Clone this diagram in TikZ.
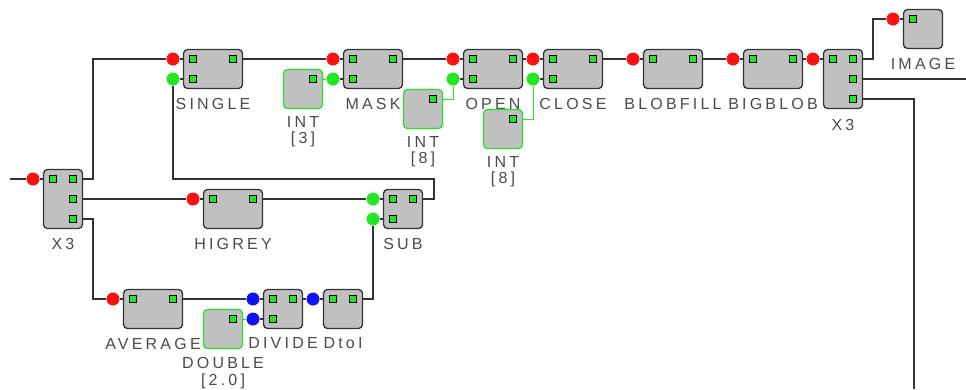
\documentclass[tikz,border=0pt]{standalone}
\usepackage{fontspec}
\usepackage{tikz}
\usetikzlibrary{positioning,backgrounds}
\newfontfamily\lblfont[LetterSpace=20]{Liberation Sans}
\definecolor{cinza}{HTML}{C0C0C0}
\definecolor{borda}{HTML}{333333}
\definecolor{verde}{HTML}{22E622}
\definecolor{vermelho}{HTML}{FF1010}
\definecolor{azul}{HTML}{1010FF}
\definecolor{rotulo}{HTML}{4A4A4A}

\begin{document}
\begin{tikzpicture}[x=1pt, y=-1pt,
  blk/.style={draw=borda, fill=cinza, rounded corners=4pt, line width=1.3pt, inner sep=0pt, minimum width=59pt, minimum height=39pt},
  sq/.style={blk, minimum width=39pt},
  tall/.style={blk, minimum width=39pt, minimum height=59pt},
  cst/.style={sq, draw=verde},
  prt/.style={draw=black, fill=verde, line width=0.8pt, minimum size=7pt, inner sep=0pt},
  dr/.style={circle, fill=vermelho, minimum size=13pt, inner sep=0pt},
  dg/.style={dr, fill=verde},
  db/.style={dr, fill=azul},
  fio/.style={draw=borda, line width=1.4pt},
  fiov/.style={draw=verde, line width=1pt},
  lbl/.style={font=\lblfont\fontsize{16}{16.5}\selectfont, text=rotulo, inner sep=0pt, align=center}]
  \useasboundingbox (0,0) rectangle (966,389);
  \coordinate (ent) at (10,179);
  \coordinate (sai1) at (966,79);
  \coordinate (sai2) at (914,389);
  % top row
  \node[tall] (x3a) at (63,199) {};
  \node[prt] (x3a-i1) at (53,179) {}; \node[prt] (x3a-o1) at (73,179) {}; \node[prt] (x3a-o2) at (73,199) {}; \node[prt] (x3a-o3) at (73,219) {};
  \node[dr] (x3a-r1) at (33,179) {};
  \node[lbl, below=8.5pt of x3a] (x3a-t) {X3};
  \node[blk] (single) at (213,69) {};
  \node[prt] (single-i1) at (193,59) {}; \node[prt] (single-o1) at (233,59) {}; \node[prt] (single-i2) at (193,79) {};
  \node[dr] (single-r1) at (173,59) {}; \node[dg] (single-g2) at (173,79) {};
  \node[lbl, below=8.5pt of single] (single-t) {SINGLE};
  \node[cst] (int3) at (303,89) {};
  \node[prt] (int3-o1) at (313,79) {};
  \node[lbl, below=7pt of int3] (int3-t) {INT\\{[3]}};
  \node[blk] (mask) at (373,69) {};
  \node[prt] (mask-i1) at (353,59) {}; \node[prt] (mask-o1) at (393,59) {}; \node[prt] (mask-i2) at (353,79) {};
  \node[dr] (mask-r1) at (333,59) {}; \node[dg] (mask-g2) at (333,79) {};
  \node[lbl, below=8.5pt of mask] (mask-t) {MASK};
  \node[cst] (int8a) at (423,109) {};
  \node[prt] (int8a-o1) at (433,99) {};
  \node[lbl, below=7pt of int8a] (int8a-t) {INT\\{[8]}};
  \node[blk] (open) at (493,69) {};
  \node[prt] (open-i1) at (473,59) {}; \node[prt] (open-o1) at (513,59) {}; \node[prt] (open-i2) at (473,79) {};
  \node[dr] (open-r1) at (453,59) {}; \node[dg] (open-g2) at (453,79) {};
  \node[lbl, below=8.5pt of open] (open-t) {OPEN};
  \node[blk] (close) at (573,69) {};
  \node[prt] (close-i1) at (553,59) {}; \node[prt] (close-o1) at (593,59) {}; \node[prt] (close-i2) at (553,79) {};
  \node[dr] (close-r1) at (533,59) {}; \node[dg] (close-g2) at (533,79) {};
  \node[lbl, below=8.5pt of close] (close-t) {CLOSE};
  \node[cst] (int8b) at (503,129) {};
  \node[prt] (int8b-o1) at (513,119) {};
  \node[lbl, below=7pt of int8b] (int8b-t) {INT\\{[8]}};
  \node[blk] (blobfill) at (673,69) {};
  \node[prt] (blobfill-i1) at (653,59) {}; \node[prt] (blobfill-o1) at (693,59) {};
  \node[dr] (blobfill-r1) at (633,59) {};
  \node[lbl, below=8.5pt of blobfill] (blobfill-t) {BLOBFILL};
  \node[blk] (bigblob) at (773,69) {};
  \node[prt] (bigblob-i1) at (753,59) {}; \node[prt] (bigblob-o1) at (793,59) {};
  \node[dr] (bigblob-r1) at (733,59) {};
  \node[lbl, below=8.5pt of bigblob] (bigblob-t) {BIGBLOB};
  \node[tall] (x3b) at (843,79) {};
  \node[prt] (x3b-i1) at (833,59) {}; \node[prt] (x3b-o1) at (853,59) {}; \node[prt] (x3b-o2) at (853,79) {}; \node[prt] (x3b-o3) at (853,99) {};
  \node[dr] (x3b-r1) at (813,59) {};
  \node[lbl, below=9.5pt of x3b] (x3b-t) {X3};
  \node[sq] (image) at (923,29) {};
  \node[prt] (image-i1) at (913,19) {};
  \node[dr] (image-r1) at (893,19) {};
  \node[lbl, below=8.5pt of image] (image-t) {IMAGE};
  % middle and bottom rows
  \node[blk] (higrey) at (233,209) {};
  \node[prt] (higrey-i1) at (213,199) {}; \node[prt] (higrey-o1) at (253,199) {};
  \node[dr] (higrey-r1) at (193,199) {};
  \node[lbl, below=8.5pt of higrey] (higrey-t) {HIGREY};
  \node[sq] (sub) at (403,209) {};
  \node[prt] (sub-i1) at (393,199) {}; \node[prt] (sub-o1) at (413,199) {}; \node[prt] (sub-i2) at (393,219) {};
  \node[dg] (sub-g1) at (373,199) {}; \node[dg] (sub-g2) at (373,219) {};
  \node[lbl, below=8.5pt of sub] (sub-t) {SUB};
  \node[blk] (average) at (153,309) {};
  \node[prt] (average-i1) at (133,299) {}; \node[prt] (average-o1) at (173,299) {};
  \node[dr] (average-r1) at (113,299) {};
  \node[lbl, below=8.5pt of average] (average-t) {AVERAGE};
  \node[sq] (divide) at (283,309) {};
  \node[prt] (divide-i1) at (273,299) {}; \node[prt] (divide-o1) at (293,299) {}; \node[prt] (divide-i2) at (273,319) {};
  \node[db] (divide-b1) at (253,299) {}; \node[db] (divide-b2) at (253,319) {};
  \node[lbl, below=8.5pt of divide] (divide-t) {DIVIDE};
  \node[cst] (double) at (223,329) {};
  \node[prt] (double-o1) at (233,319) {};
  \node[lbl, below=8pt of double] (double-t) {DOUBLE\\{[2.0]}};
  \node[sq] (dtoi) at (343,309) {};
  \node[prt] (dtoi-i1) at (333,299) {}; \node[prt] (dtoi-o1) at (353,299) {};
  \node[db] (dtoi-b1) at (313,299) {};
  \node[lbl, below=8.5pt of dtoi] (dtoi-t) {DtoI};
  % wires
  \begin{scope}[on background layer]
    \foreach \d/\p in {x3a-r1/x3a-i1, single-r1/single-i1, single-g2/single-i2, mask-r1/mask-i1, mask-g2/mask-i2,
        open-r1/open-i1, open-g2/open-i2, close-r1/close-i1, close-g2/close-i2, blobfill-r1/blobfill-i1,
        bigblob-r1/bigblob-i1, x3b-r1/x3b-i1, image-r1/image-i1, higrey-r1/higrey-i1, sub-g1/sub-i1, sub-g2/sub-i2,
        average-r1/average-i1, divide-b1/divide-i1, divide-b2/divide-i2, dtoi-b1/dtoi-i1}
      \draw[fio] (\d) -- (\p);
    \draw[fio] (ent) -- (x3a-r1);
    \draw[fio] (x3a-o1) -- ++(20,0) |- (single-r1);
    \draw[fio] (x3a-o2) -- (higrey-r1);
    \draw[fio] (x3a-o3) -- ++(20,0) |- (average-r1);
    \draw[fio] (single-o1) -- (mask-r1); \draw[fio] (mask-o1) -- (open-r1); \draw[fio] (open-o1) -- (close-r1);
    \draw[fio] (close-o1) -- (blobfill-r1); \draw[fio] (blobfill-o1) -- (bigblob-r1); \draw[fio] (bigblob-o1) -- (x3b-r1);
    \draw[fio] (x3b-o1) -- ++(20,0) |- (image-r1);
    \draw[fio] (x3b-o2) -- (sai1);
    \draw[fio] (x3b-o3) -| (sai2);
    \draw[fio] (higrey-o1) -- (sub-g1);
    \draw[fio] (sub-o1) -- ++(21,0) -- ++(0,-20) -| (single-g2);
    \draw[fio] (average-o1) -- (divide-b1); \draw[fio] (divide-o1) -- (dtoi-b1);
    \draw[fio] (dtoi-o1) -| (sub-g2);
    \draw[fiov] (int3-o1) -- (mask-g2);
    \draw[fiov] (int8a-o1) -| (open-g2);
    \draw[fiov] (int8b-o1) -| (close-g2);
    \draw[fiov] (double-o1) -- (divide-b2);
  \end{scope}
\end{tikzpicture}
\end{document}
